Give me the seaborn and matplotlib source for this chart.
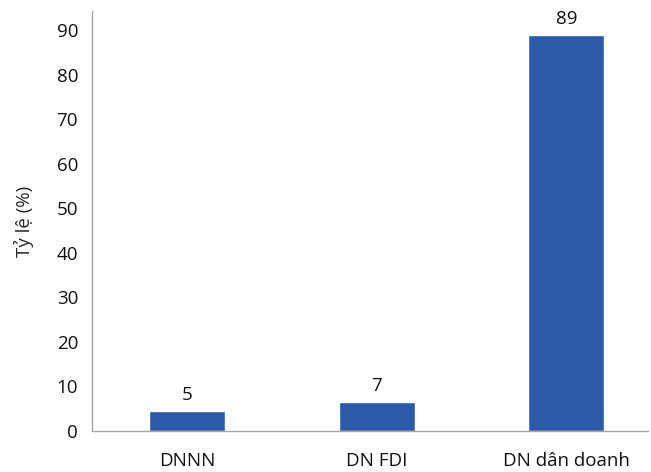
import numpy as np
import pandas as pd
import matplotlib
matplotlib.use("Agg")
import matplotlib.pyplot as plt
import seaborn as sns

# dữ liệu
categories = ["DNNN", "DN FDI", "DN dân doanh"]
values = [4.5, 6.5, 88.9]
labels = ["5", "7", "89"]

df = pd.DataFrame({"loai": categories, "ty_le": values})

sns.set_style("white")
plt.rcParams["font.family"] = ["Open Sans", "DejaVu Sans"]

fig = plt.figure(figsize=(6.51, 4.72), dpi=100)
ax = fig.add_axes([0.1413, 0.0869, 0.8541, 0.8898])

sns.barplot(data=df, x="loai", y="ty_le", color="#2B5BA8", saturation=1,
            width=0.4, ax=ax)

for i, (v, lab) in enumerate(zip(values, labels)):
    ax.text(i, v + 1.6, lab, ha="center", va="bottom", fontsize=13.5, color="#111111")

ax.set_xlim(-0.5, 2.43)
ax.set_ylim(0, 94.3)
ax.set_yticks(range(0, 91, 10))
ax.set_xlabel("")
ax.set_ylabel("Tỷ lệ (%)", fontsize=13.5, labelpad=16)
ax.tick_params(axis="both", length=0, labelsize=13.5, colors="#111111")
ax.tick_params(axis="x", pad=15)
ax.tick_params(axis="y", pad=10)

for s in ["top", "right"]:
    ax.spines[s].set_visible(False)
for s in ["left", "bottom"]:
    ax.spines[s].set_color("#a6a6a6")
    ax.spines[s].set_linewidth(1)

fig.savefig("out.png", dpi=100)
